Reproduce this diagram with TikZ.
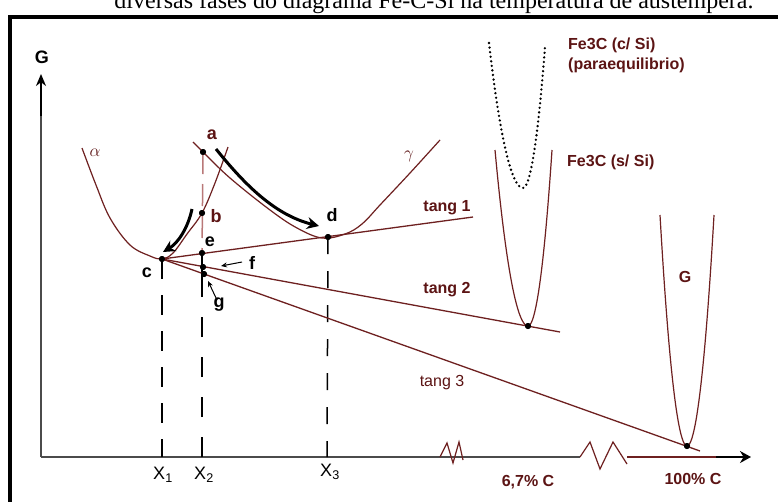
\documentclass[tikz,border=0pt]{standalone}
\usepackage{fontspec}
\setmainfont{Liberation Serif}
\newfontfamily\arial{Liberation Sans}
\usetikzlibrary{arrows.meta}
\definecolor{brn}{RGB}{110,32,32}
\definecolor{brntxt}{RGB}{92,20,20}
\definecolor{axgray}{RGB}{75,75,75}
\definecolor{pinkdash}{RGB}{185,120,120}
\begin{document}
\begin{tikzpicture}[x=1pt,y=-1pt,
  curve/.style={brn, line width=1.2pt},
  tangline/.style={brn, line width=1.3pt},
  dot/.style={circle, fill=black, inner sep=0pt, minimum size=6pt},
  lbl/.style={font=\arial\bfseries\fontsize{18}{18}\selectfont, inner sep=0pt},
  blbl/.style={lbl, text=brntxt},
  mlbl/.style={font=\arial\bfseries\fontsize{16}{16}\selectfont, text=brntxt, inner sep=0pt},
  mlblr/.style={font=\arial\fontsize{16}{16}\selectfont, text=brntxt, inner sep=0pt},
  xlbl/.style={font=\arial\fontsize{18}{18}\selectfont, inner sep=0pt},
  bigarrow/.style={line width=3pt, -{Stealth[length=12pt,width=12pt]}},
  thinarrow/.style={line width=1pt, -{Stealth[length=6pt,width=5pt]}},
  vdash/.style={black, line width=1.5pt, dash pattern=on 20pt off 16pt},
  zig/.style={brn, line width=1.2pt}
]
\useasboundingbox (0,0) rectangle (778,501);
\clip (0,0) rectangle (778,501);
\fill[white] (0,0) rectangle (778,501);

% caption (cut off) and frame
\node[font=\fontsize{24}{24}\selectfont, anchor=base, inner sep=0pt] (cap) at (434,8) {diversas fases do diagrama Fe-C-Si na temperatura de austempera.};
\draw[line width=4pt] (10,505) -- (10,17) -- (782,17);

% axes
\coordinate (origin) at (41,457);
\coordinate (gtop) at (41,74);
\coordinate (gmid) at (41,116);
\draw[axgray, line width=1.3pt] (origin) -- (41,112);
\draw[line width=2.5pt, -{Stealth[length=12pt,width=10pt]}] (gmid) -- (gtop);
\node[lbl] (Gax) at (42,57) {G};

\coordinate (z1a) at (440,457);
\coordinate (z2a) at (580,457);
\coordinate (z2b) at (627,457);
\coordinate (xarr) at (718,457);
\coordinate (xtip) at (751,457);
\draw[axgray, line width=1.3pt] (origin) -- (z2a);
\draw[brn, line width=1.3pt] (z2b) -- (xarr);
\draw[line width=2.5pt, -{Stealth[length=11pt,width=12pt]}] (716,457) -- (xtip);
\draw[zig] (z1a) -- (447,443) -- (453,463) -- (459,442) -- (463,460);
\draw[zig] (z2a) -- (590,442) -- (600,469) -- (613,442) -- (627,464);

% points
\node[dot] (a) at (203,152) {};
\node[dot] (b) at (202,213) {};
\node[dot] (c) at (162,259) {};
\node[dot] (d) at (328,237) {};
\node[dot] (e) at (202,253) {};
\node[dot] (f) at (203,267) {};
\node[dot] (g) at (204,274) {};
\node[dot] (p2) at (528,326) {};
\node[dot] (p3) at (687,446) {};

% axis feet
\coordinate (x1) at (162,457);
\coordinate (x2) at (202,457);
\coordinate (x3) at (327,457);

% vertical dashed lines
\draw[vdash] (c.center) -- (x1);
\draw[black, line width=1.5pt, dash pattern=on 20pt off 20pt] (x2) -- (e.center);
\draw[black, line width=1.5pt] (e.center) -- (202,293);
\draw[pinkdash, line width=1.5pt, dash pattern=on 22pt off 10pt] (a.center) -- (e.center);
\draw[black, line width=1.5pt, dash pattern=on 17pt off 17pt] (d.center) -- (x3);

% alpha curve
\draw[curve] plot[smooth, tension=0.6] coordinates {(82,148) (96,185) (110,218) (130,245) (150,256) (162,259) (173,253) (187,234) (202,213) (215,183) (228,147)};
% gamma curve
\draw[curve] plot[smooth, tension=0.6] coordinates {(193,142) (203,152) (230,178) (270,210) (297,228) (322,238) (345,234) (362,224) (380,205) (410,173) (440,140)};
\node[font=\fontsize{17}{17}\selectfont, text=brntxt, inner sep=0pt] (alab) at (95,153) {$\alpha$};
\node[font=\fontsize{17}{17}\selectfont, text=brntxt, inner sep=0pt] (glab) at (409,156) {$\gamma$};

% Fe3C parabolas and G parabola
\draw[black, line width=2.6pt, dash pattern=on 0pt off 4.6pt, line cap=round] (489,43) parabola bend (523,188) (545,47);
\draw[curve] (495,150) parabola bend (p2.center) (552,150);
\draw[curve] (660,215) parabola bend (p3.center) (714,215);

% tangent lines
\coordinate (t1end) at (473,217);
\coordinate (t2end) at (560,332);
\coordinate (t3end) at (700,451);
\draw[tangline] (c.center) -- (t1end);
\draw[tangline] (c.center) -- (t2end);
\draw[tangline] (c.center) -- (t3end);

% redraw dots on top
\foreach \n in {a,b,c,d,e,f,g,p2,p3} \fill (\n) circle (3pt);

% arrows
\draw[bigarrow] (216,149) .. controls (245,185) and (275,215) .. (319,226);
\draw[bigarrow] (192,209) .. controls (188,228) and (178,243) .. (163,252);
\coordinate (fs) at (242,262);
\coordinate (gs) at (217,300);
\draw[thinarrow] (fs) -- (221,266);
\draw[thinarrow] (gs) -- (208,281);

% labels
\node[blbl] (la) at (212,135) {a};
\node[blbl] (lb) at (216,216) {b};
\node[lbl] (lc) at (147,273) {c};
\node[lbl] (ld) at (332,215) {d};
\node[lbl] (le) at (210,242) {e};
\node[lbl] (lf) at (252,263) {f};
\node[lbl] (lg) at (219,305) {g};

\node[mlbl] (t1) at (447,208) {tang 1};
\node[mlbl] (t2) at (447,290) {tang 2};
\node[mlblr] (t3) at (442,383) {tang 3};

\node[mlbl, anchor=west] (fe1) at (568,45) {Fe3C (c/ Si)};
\node[mlbl, anchor=west] (fe1b) at (568,65) {(paraequilibrio)};
\node[mlbl, anchor=west] (fe2) at (567,162) {Fe3C (s/ Si)};
\node[mlbl] (Gp) at (685,277) {G};

\node[xlbl] (X1) at (163,475) {X\textsubscript{1}};
\node[xlbl] (X2) at (204,475) {X\textsubscript{2}};
\node[xlbl] (X3) at (330,472) {X\textsubscript{3}};
\node[mlbl] (c67) at (528,482) {6,7\% C};
\node[mlbl] (c100) at (693,479) {100\% C};
\end{tikzpicture}
\end{document}
